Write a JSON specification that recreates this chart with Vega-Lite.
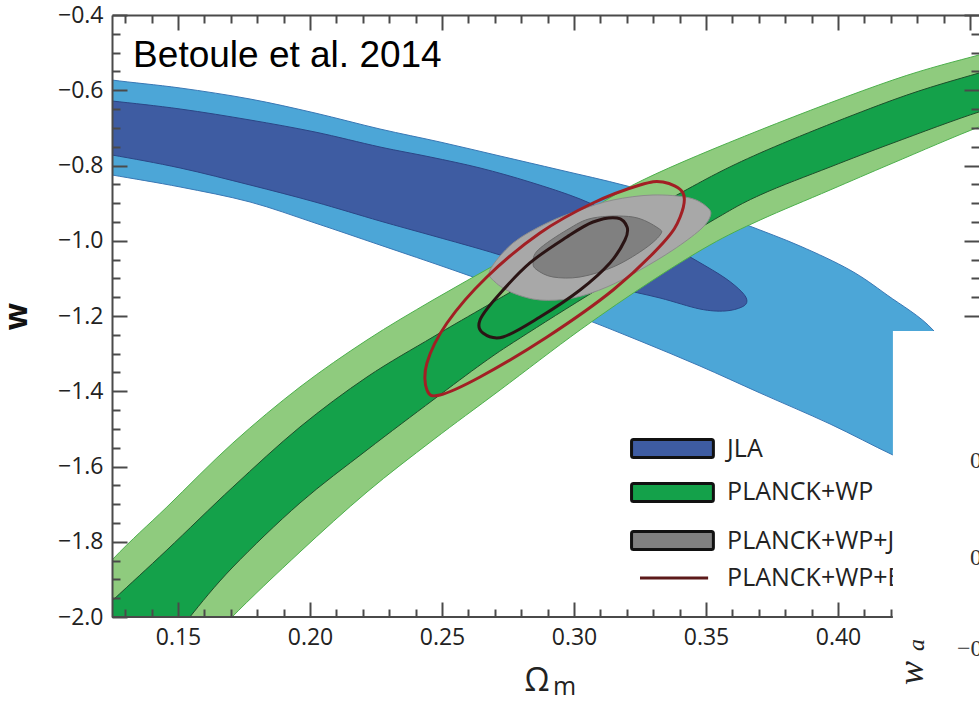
{
  "$schema": "https://vega.github.io/schema/vega-lite/v6.json",
  "width": 867,
  "height": 602,
  "autosize": {"type": "none"},
  "padding": {"left": 112, "top": 15, "right": 0, "bottom": 84},
  "background": "white",
  "config": {
    "view": {"stroke": null},
    "axis": {"grid": false, "domainColor": "#4a4a4a", "domainWidth": 2, "tickColor": "#4a4a4a", "tickWidth": 2, "labelFont": "Open Sans", "labelFontSize": 23, "labelColor": "#222222", "labelFlush": false, "labelOverlap": false}
  },
  "datasets": {
    "shapes": [
      {"s":"LB","i":1,"x":0.1053,"y":-0.5515},{"s":"LB","i":2,"x":0.125,"y":-0.5728},{"s":"LB","i":3,"x":0.1508,"y":-0.594},{"s":"LB","i":4,"x":0.1773,"y":-0.6233},{"s":"LB","i":5,"x":0.2019,"y":-0.6605},{"s":"LB","i":6,"x":0.2265,"y":-0.703},{"s":"LB","i":7,"x":0.2492,"y":-0.7375},{"s":"LB","i":8,"x":0.272,"y":-0.7748},{"s":"LB","i":9,"x":0.2947,"y":-0.812},{"s":"LB","i":10,"x":0.3201,"y":-0.8545},{"s":"LB","i":11,"x":0.3477,"y":-0.9103},{"s":"LB","i":12,"x":0.3655,"y":-0.9581},{"s":"LB","i":13,"x":0.3856,"y":-1.014},{"s":"LB","i":14,"x":0.4045,"y":-1.0777},{"s":"LB","i":15,"x":0.4186,"y":-1.1442},{"s":"LB","i":16,"x":0.436,"y":-1.2372},{"s":"LB","i":17,"x":0.447,"y":-1.3648},{"s":"LB","i":18,"x":0.4492,"y":-1.503},{"s":"LB","i":19,"x":0.4424,"y":-1.6359},{"s":"LB","i":20,"x":0.4208,"y":-1.5694},{"s":"LB","i":21,"x":0.397,"y":-1.487},{"s":"LB","i":22,"x":0.3705,"y":-1.4047},{"s":"LB","i":23,"x":0.3477,"y":-1.3329},{"s":"LB","i":24,"x":0.325,"y":-1.2664},{"s":"LB","i":25,"x":0.3023,"y":-1.2027},{"s":"LB","i":26,"x":0.2796,"y":-1.1415},{"s":"LB","i":27,"x":0.2542,"y":-1.0777},{"s":"LB","i":28,"x":0.2265,"y":-1.0113},{"s":"LB","i":29,"x":0.2019,"y":-0.9528},{"s":"LB","i":30,"x":0.1773,"y":-0.897},{"s":"LB","i":31,"x":0.1508,"y":-0.8571},{"s":"LB","i":32,"x":0.125,"y":-0.8252},{"s":"LB","i":33,"x":0.1053,"y":-0.8013},
      {"s":"DB","i":1,"x":0.1053,"y":-0.6153},{"s":"DB","i":2,"x":0.125,"y":-0.6286},{"s":"DB","i":3,"x":0.1508,"y":-0.6498},{"s":"DB","i":4,"x":0.1773,"y":-0.6791},{"s":"DB","i":5,"x":0.2019,"y":-0.711},{"s":"DB","i":6,"x":0.2265,"y":-0.7508},{"s":"DB","i":7,"x":0.2455,"y":-0.7774},{"s":"DB","i":8,"x":0.2644,"y":-0.8066},{"s":"DB","i":9,"x":0.2833,"y":-0.8439},{"s":"DB","i":10,"x":0.3023,"y":-0.889},{"s":"DB","i":11,"x":0.3174,"y":-0.9395},{"s":"DB","i":12,"x":0.3326,"y":-0.998},{"s":"DB","i":13,"x":0.3466,"y":-1.0538},{"s":"DB","i":14,"x":0.3572,"y":-1.099},{"s":"DB","i":15,"x":0.3636,"y":-1.1362},{"s":"DB","i":16,"x":0.3655,"y":-1.1601},{"s":"DB","i":17,"x":0.3636,"y":-1.1761},{"s":"DB","i":18,"x":0.3572,"y":-1.1867},{"s":"DB","i":19,"x":0.3477,"y":-1.1814},{"s":"DB","i":20,"x":0.3326,"y":-1.1522},{"s":"DB","i":21,"x":0.3148,"y":-1.1229},{"s":"DB","i":22,"x":0.2947,"y":-1.0831},{"s":"DB","i":23,"x":0.2796,"y":-1.0538},{"s":"DB","i":24,"x":0.2644,"y":-1.0219},{"s":"DB","i":25,"x":0.2455,"y":-0.9847},{"s":"DB","i":26,"x":0.2265,"y":-0.9475},{"s":"DB","i":27,"x":0.2019,"y":-0.897},{"s":"DB","i":28,"x":0.1773,"y":-0.8518},{"s":"DB","i":29,"x":0.1508,"y":-0.8066},{"s":"DB","i":30,"x":0.125,"y":-0.7721},{"s":"DB","i":31,"x":0.1053,"y":-0.7508},
      {"s":"LG","i":1,"x":0.0977,"y":-2.0611},{"s":"LG","i":2,"x":0.125,"y":-1.8485},{"s":"LG","i":3,"x":0.1458,"y":-1.7076},{"s":"LG","i":4,"x":0.1708,"y":-1.5375},{"s":"LG","i":5,"x":0.1962,"y":-1.3887},{"s":"LG","i":6,"x":0.2216,"y":-1.2638},{"s":"LG","i":7,"x":0.2466,"y":-1.1575},{"s":"LG","i":8,"x":0.272,"y":-1.0565},{"s":"LG","i":9,"x":0.2985,"y":-0.9502},{"s":"LG","i":10,"x":0.3261,"y":-0.8385},{"s":"LG","i":11,"x":0.3705,"y":-0.7057},{"s":"LG","i":12,"x":0.4208,"y":-0.5728},{"s":"LG","i":13,"x":0.4534,"y":-0.5063},{"s":"LG","i":14,"x":0.4689,"y":-0.4797},{"s":"LG","i":15,"x":0.4689,"y":-0.6658},{"s":"LG","i":16,"x":0.4534,"y":-0.6977},{"s":"LG","i":17,"x":0.4208,"y":-0.7934},{"s":"LG","i":18,"x":0.397,"y":-0.8651},{"s":"LG","i":19,"x":0.3705,"y":-0.9449},{"s":"LG","i":20,"x":0.3515,"y":-1.0113},{"s":"LG","i":21,"x":0.3288,"y":-1.1096},{"s":"LG","i":22,"x":0.3023,"y":-1.2372},{"s":"LG","i":23,"x":0.272,"y":-1.3967},{"s":"LG","i":24,"x":0.2466,"y":-1.5296},{"s":"LG","i":25,"x":0.2216,"y":-1.6678},{"s":"LG","i":26,"x":0.1962,"y":-1.8272},{"s":"LG","i":27,"x":0.1705,"y":-2.0},{"s":"LG","i":28,"x":0.1583,"y":-2.101},{"s":"LG","i":29,"x":0.0977,"y":-2.1276},
      {"s":"DG","i":1,"x":0.1053,"y":-2.0877},{"s":"DG","i":2,"x":0.1254,"y":-1.9548},{"s":"DG","i":3,"x":0.1458,"y":-1.8219},{"s":"DG","i":4,"x":0.1708,"y":-1.6545},{"s":"DG","i":5,"x":0.1962,"y":-1.495},{"s":"DG","i":6,"x":0.2216,"y":-1.3621},{"s":"DG","i":7,"x":0.2466,"y":-1.2558},{"s":"DG","i":8,"x":0.2655,"y":-1.1787},{"s":"DG","i":9,"x":0.3023,"y":-1.0299},{"s":"DG","i":10,"x":0.339,"y":-0.8784},{"s":"DG","i":11,"x":0.3705,"y":-0.7668},{"s":"DG","i":12,"x":0.4208,"y":-0.6259},{"s":"DG","i":13,"x":0.4534,"y":-0.5542},{"s":"DG","i":14,"x":0.4689,"y":-0.5249},{"s":"DG","i":15,"x":0.4689,"y":-0.6339},{"s":"DG","i":16,"x":0.4534,"y":-0.6578},{"s":"DG","i":17,"x":0.4208,"y":-0.7402},{"s":"DG","i":18,"x":0.397,"y":-0.804},{"s":"DG","i":19,"x":0.3705,"y":-0.8784},{"s":"DG","i":20,"x":0.3515,"y":-0.9502},{"s":"DG","i":21,"x":0.3098,"y":-1.1256},{"s":"DG","i":22,"x":0.2796,"y":-1.2585},{"s":"DG","i":23,"x":0.2655,"y":-1.3249},{"s":"DG","i":24,"x":0.2466,"y":-1.4233},{"s":"DG","i":25,"x":0.2216,"y":-1.5561},{"s":"DG","i":26,"x":0.1962,"y":-1.697},{"s":"DG","i":27,"x":0.1708,"y":-1.8671},{"s":"DG","i":28,"x":0.1545,"y":-2.0},{"s":"DG","i":29,"x":0.147,"y":-2.0744},{"s":"DG","i":30,"x":0.1053,"y":-2.1409},
      {"s":"GL","i":1,"x":0.2682,"y":-1.0777},{"s":"GL","i":2,"x":0.2769,"y":-1.0061},{"s":"GL","i":3,"x":0.2898,"y":-0.9528},{"s":"GL","i":4,"x":0.3023,"y":-0.9183},{"s":"GL","i":5,"x":0.3148,"y":-0.8917},{"s":"GL","i":6,"x":0.3299,"y":-0.8784},{"s":"GL","i":7,"x":0.3439,"y":-0.8864},{"s":"GL","i":8,"x":0.3508,"y":-0.913},{"s":"GL","i":9,"x":0.3515,"y":-0.9369},{"s":"GL","i":10,"x":0.3477,"y":-0.9714},{"s":"GL","i":11,"x":0.3375,"y":-1.0246},{"s":"GL","i":12,"x":0.325,"y":-1.0777},{"s":"GL","i":13,"x":0.3125,"y":-1.1229},{"s":"GL","i":14,"x":0.2996,"y":-1.1522},{"s":"GL","i":15,"x":0.2871,"y":-1.1575},{"s":"GL","i":16,"x":0.2769,"y":-1.1389},{"s":"GL","i":17,"x":0.2701,"y":-1.1096},
      {"s":"GD","i":1,"x":0.2845,"y":-1.0591},{"s":"GD","i":2,"x":0.2864,"y":-1.0246},{"s":"GD","i":3,"x":0.2973,"y":-0.9714},{"s":"GD","i":4,"x":0.3072,"y":-0.9395},{"s":"GD","i":5,"x":0.3223,"y":-0.9369},{"s":"GD","i":6,"x":0.3318,"y":-0.9661},{"s":"GD","i":7,"x":0.3326,"y":-0.9847},{"s":"GD","i":8,"x":0.3261,"y":-1.0246},{"s":"GD","i":9,"x":0.3148,"y":-1.0698},{"s":"GD","i":10,"x":0.3023,"y":-1.0963},{"s":"GD","i":11,"x":0.292,"y":-1.0963},{"s":"GD","i":12,"x":0.286,"y":-1.0777},
      {"s":"DE","i":1,"x":0.3072,"y":-0.9502},{"s":"DE","i":2,"x":0.3163,"y":-0.9395},{"s":"DE","i":3,"x":0.3201,"y":-0.9635},{"s":"DE","i":4,"x":0.3193,"y":-0.998},{"s":"DE","i":5,"x":0.3136,"y":-1.0591},{"s":"DE","i":6,"x":0.3023,"y":-1.1309},{"s":"DE","i":7,"x":0.2871,"y":-1.2027},{"s":"DE","i":8,"x":0.2731,"y":-1.2558},{"s":"DE","i":9,"x":0.2655,"y":-1.2452},{"s":"DE","i":10,"x":0.2644,"y":-1.2106},{"s":"DE","i":11,"x":0.2708,"y":-1.1495},{"s":"DE","i":12,"x":0.2833,"y":-1.0591},{"s":"DE","i":13,"x":0.2973,"y":-0.99},
      {"s":"RE","i":1,"x":0.325,"y":-0.8518},{"s":"RE","i":2,"x":0.3337,"y":-0.8439},{"s":"RE","i":3,"x":0.3413,"y":-0.8731},{"s":"RE","i":4,"x":0.3402,"y":-0.9369},{"s":"RE","i":5,"x":0.3337,"y":-1.006},{"s":"RE","i":6,"x":0.3148,"y":-1.1309},{"s":"RE","i":7,"x":0.2898,"y":-1.2558},{"s":"RE","i":8,"x":0.2644,"y":-1.3621},{"s":"RE","i":9,"x":0.2492,"y":-1.41},{"s":"RE","i":10,"x":0.2443,"y":-1.3967},{"s":"RE","i":11,"x":0.2443,"y":-1.3249},{"s":"RE","i":12,"x":0.2519,"y":-1.2186},{"s":"RE","i":13,"x":0.267,"y":-1.0963},{"s":"RE","i":14,"x":0.2871,"y":-0.9794},{"s":"RE","i":15,"x":0.3072,"y":-0.8997}
    ]
  },
  "resolve": {"axis": {"x": "independent", "y": "independent"}},
  "layer": [
    {
      "data": {"name": "shapes"},
      "transform": [{"filter": "datum.s === 'LB'"}],
      "mark": {"type": "line", "interpolate": "cardinal-closed", "fill": "#4CA6D7", "stroke": "#3A78B5", "strokeWidth": 1, "clip": true},
      "encoding": {
        "x": {"field": "x", "type": "quantitative", "scale": {"domain": [0.125, 0.45341], "nice": false, "zero": false},
          "axis": {"orient": "bottom", "values": [0.15, 0.2, 0.25, 0.3, 0.35, 0.4], "format": ".2f", "tickSize": -15, "domain": false, "labelPadding": 24, "title": null, "zindex": 1}},
        "y": {"field": "y", "type": "quantitative", "scale": {"domain": [-2.0, -0.4], "nice": false, "zero": false},
          "axis": {"orient": "left", "values": [-2.0, -1.8, -1.6, -1.4, -1.2, -1.0, -0.8, -0.6, -0.4], "format": ".1f", "tickSize": -15, "labelPadding": 24, "zindex": 1,
            "title": "w", "titleFont": "Open Sans", "titleFontSize": 32, "titleFontWeight": "bold", "titleColor": "#111111", "titleX": -96, "titleY": 301, "titleAngle": 270, "titleAlign": "center", "titleBaseline": "middle"}},
        "order": {"field": "i", "type": "quantitative"}
      }
    },
    {
      "data": {"name": "shapes"},
      "transform": [{"filter": "datum.s === 'DB'"}],
      "mark": {"type": "line", "interpolate": "cardinal-closed", "fill": "#3E5CA2", "stroke": "#2B4686", "strokeWidth": 1, "clip": true},
      "encoding": {
        "x": {"field": "x", "type": "quantitative", "scale": {"domain": [0.125, 0.45341], "nice": false, "zero": false},
          "axis": {"orient": "bottom", "values": [0.13, 0.14, 0.16, 0.17, 0.18, 0.19, 0.21, 0.22, 0.23, 0.24, 0.26, 0.27, 0.28, 0.29, 0.31, 0.32, 0.33, 0.34, 0.36, 0.37, 0.38, 0.39, 0.41, 0.42], "tickSize": -8, "domain": false, "labels": false, "title": null, "zindex": 1}},
        "y": {"field": "y", "type": "quantitative", "scale": {"domain": [-2.0, -0.4], "nice": false, "zero": false},
          "axis": {"orient": "left", "values": [-1.95, -1.9, -1.85, -1.75, -1.7, -1.65, -1.55, -1.5, -1.45, -1.35, -1.3, -1.25, -1.15, -1.1, -1.05, -0.95, -0.9, -0.85, -0.75, -0.7, -0.65, -0.55, -0.5, -0.45], "tickSize": -8, "domain": false, "labels": false, "title": null, "zindex": 1}},
        "order": {"field": "i", "type": "quantitative"}
      }
    },
    {
      "data": {"name": "shapes"},
      "transform": [{"filter": "datum.s === 'LG'"}],
      "mark": {"type": "line", "interpolate": "cardinal-closed", "fill": "#8FCB7E", "stroke": "#4DB04C", "strokeWidth": 1, "clip": true},
      "encoding": {
        "x": {"field": "x", "type": "quantitative", "scale": {"domain": [0.125, 0.45341], "nice": false, "zero": false},
          "axis": {"orient": "top", "values": [0.15, 0.2, 0.25, 0.3, 0.35, 0.4, 0.45], "tickSize": -15, "labels": false, "title": null, "zindex": 1}},
        "y": {"field": "y", "type": "quantitative", "scale": {"domain": [-2.0, -0.4], "nice": false, "zero": false},
          "axis": {"orient": "right", "values": [-1.2, -1.0, -0.8, -0.6, -0.4], "tickSize": -15, "domain": false, "labels": false, "title": null, "zindex": 1}},
        "order": {"field": "i", "type": "quantitative"}
      }
    },
    {
      "data": {"name": "shapes"},
      "transform": [{"filter": "datum.s === 'DG'"}],
      "mark": {"type": "line", "interpolate": "cardinal-closed", "fill": "#14A14A", "stroke": "#1D4F2A", "strokeWidth": 1, "clip": true},
      "encoding": {
        "x": {"field": "x", "type": "quantitative", "scale": {"domain": [0.125, 0.45341], "nice": false, "zero": false},
          "axis": {"orient": "top", "values": [0.13, 0.14, 0.16, 0.17, 0.18, 0.19, 0.21, 0.22, 0.23, 0.24, 0.26, 0.27, 0.28, 0.29, 0.31, 0.32, 0.33, 0.34, 0.36, 0.37, 0.38, 0.39, 0.41, 0.42, 0.43, 0.44], "tickSize": -8, "domain": false, "labels": false, "title": null, "zindex": 1}},
        "y": {"field": "y", "type": "quantitative", "scale": {"domain": [-2.0, -0.4], "nice": false, "zero": false},
          "axis": {"orient": "right", "values": [-1.15, -1.1, -1.05, -0.95, -0.9, -0.85, -0.75, -0.7, -0.65, -0.55, -0.5, -0.45], "tickSize": -8, "domain": false, "labels": false, "title": null, "zindex": 1}},
        "order": {"field": "i", "type": "quantitative"}
      }
    },
    {
      "data": {"name": "shapes"},
      "transform": [{"filter": "datum.s === 'GL'"}],
      "mark": {"type": "line", "interpolate": "cardinal-closed", "fill": "#A8A8A8", "stroke": "#8C8C8C", "strokeWidth": 1, "clip": true},
      "encoding": {
        "x": {"field": "x", "type": "quantitative", "scale": {"domain": [0.125, 0.45341], "nice": false, "zero": false}, "axis": null},
        "y": {"field": "y", "type": "quantitative", "scale": {"domain": [-2.0, -0.4], "nice": false, "zero": false}, "axis": null},
        "order": {"field": "i", "type": "quantitative"}
      }
    },
    {
      "data": {"name": "shapes"},
      "transform": [{"filter": "datum.s === 'GD'"}],
      "mark": {"type": "line", "interpolate": "cardinal-closed", "fill": "#808080", "stroke": "#6A6A6A", "strokeWidth": 1, "clip": true},
      "encoding": {
        "x": {"field": "x", "type": "quantitative", "scale": {"domain": [0.125, 0.45341], "nice": false, "zero": false}, "axis": null},
        "y": {"field": "y", "type": "quantitative", "scale": {"domain": [-2.0, -0.4], "nice": false, "zero": false}, "axis": null},
        "order": {"field": "i", "type": "quantitative"}
      }
    },
    {
      "mark": {"type": "rule", "color": "#1A1A1A", "strokeWidth": 4, "strokeDash": [24, 23]},
      "encoding": {
        "y": {"datum": -1.0, "type": "quantitative", "scale": {"domain": [-2.0, -0.4], "nice": false, "zero": false}, "axis": null}
      }
    },
    {
      "data": {"name": "shapes"},
      "transform": [{"filter": "datum.s === 'RE'"}],
      "mark": {"type": "line", "interpolate": "cardinal-closed", "fill": null, "stroke": "#A21F24", "strokeWidth": 3, "clip": true},
      "encoding": {
        "x": {"field": "x", "type": "quantitative", "scale": {"domain": [0.125, 0.45341], "nice": false, "zero": false}, "axis": null},
        "y": {"field": "y", "type": "quantitative", "scale": {"domain": [-2.0, -0.4], "nice": false, "zero": false}, "axis": null},
        "order": {"field": "i", "type": "quantitative"}
      }
    },
    {
      "data": {"name": "shapes"},
      "transform": [{"filter": "datum.s === 'DE'"}],
      "mark": {"type": "line", "interpolate": "cardinal-closed", "fill": null, "stroke": "#2A1414", "strokeWidth": 3, "clip": true},
      "encoding": {
        "x": {"field": "x", "type": "quantitative", "scale": {"domain": [0.125, 0.45341], "nice": false, "zero": false}, "axis": null},
        "y": {"field": "y", "type": "quantitative", "scale": {"domain": [-2.0, -0.4], "nice": false, "zero": false}, "axis": null},
        "order": {"field": "i", "type": "quantitative"}
      }
    },
    {
      "data": {"values": [{"x": 0.125, "x2": 0.4208, "y": -2.0}]},
      "mark": {"type": "rule", "color": "#4a4a4a", "strokeWidth": 2},
      "encoding": {
        "x": {"field": "x", "type": "quantitative", "scale": {"domain": [0.125, 0.45341], "nice": false, "zero": false}, "axis": null},
        "x2": {"field": "x2"},
        "y": {"field": "y", "type": "quantitative", "scale": {"domain": [-2.0, -0.4], "nice": false, "zero": false}, "axis": null}
      }
    },
    {
      "data": {"values": [
        {"label": "JLA", "x": 0.3218, "x2": 0.3528, "y": -1.5282, "y2": -1.5761},
        {"label": "PLANCK+WP", "x": 0.3218, "x2": 0.3528, "y": -1.6452, "y2": -1.693},
        {"label": "PLANCK+WP+JLA", "x": 0.3218, "x2": 0.3528, "y": -1.7728, "y2": -1.8206}
      ]},
      "mark": {"type": "rect", "stroke": "#111111", "strokeWidth": 3, "cornerRadius": 2},
      "encoding": {
        "x": {"field": "x", "type": "quantitative", "scale": {"domain": [0.125, 0.45341], "nice": false, "zero": false}, "axis": null},
        "x2": {"field": "x2"},
        "y": {"field": "y", "type": "quantitative", "scale": {"domain": [-2.0, -0.4], "nice": false, "zero": false}, "axis": null},
        "y2": {"field": "y2"},
        "fill": {"field": "label", "type": "nominal", "scale": {"domain": ["JLA", "PLANCK+WP", "PLANCK+WP+JLA"], "range": ["#3E5CA2", "#14A14A", "#808080"]}, "legend": null}
      }
    },
    {
      "data": {"values": [{"x": 0.325, "x2": 0.3508, "y": -1.8964}]},
      "mark": {"type": "rule", "color": "#5C1A1A", "strokeWidth": 3},
      "encoding": {
        "x": {"field": "x", "type": "quantitative", "scale": {"domain": [0.125, 0.45341], "nice": false, "zero": false}, "axis": null},
        "x2": {"field": "x2"},
        "y": {"field": "y", "type": "quantitative", "scale": {"domain": [-2.0, -0.4], "nice": false, "zero": false}, "axis": null}
      }
    },
    {
      "data": {"values": [
        {"t": "JLA", "x": 0.358, "y": -1.5522},
        {"t": "PLANCK+WP", "x": 0.358, "y": -1.6691},
        {"t": "PLANCK+WP+JLA", "x": 0.358, "y": -1.7967},
        {"t": "PLANCK+WP+BAO", "x": 0.358, "y": -1.8964}
      ]},
      "mark": {"type": "text", "align": "left", "baseline": "middle", "font": "Open Sans", "fontSize": 25, "color": "#222222"},
      "encoding": {
        "x": {"field": "x", "type": "quantitative", "scale": {"domain": [0.125, 0.45341], "nice": false, "zero": false}, "axis": null},
        "y": {"field": "y", "type": "quantitative", "scale": {"domain": [-2.0, -0.4], "nice": false, "zero": false}, "axis": null},
        "text": {"field": "t"}
      }
    },
    {
      "data": {"values": [{"t": "Betoule et al. 2014", "x": 0.133, "y": -0.5382}]},
      "mark": {"type": "text", "align": "left", "baseline": "alphabetic", "font": "Liberation Sans", "fontSize": 37, "color": "#000000"},
      "encoding": {
        "x": {"field": "x", "type": "quantitative", "scale": {"domain": [0.125, 0.45341], "nice": false, "zero": false}, "axis": null},
        "y": {"field": "y", "type": "quantitative", "scale": {"domain": [-2.0, -0.4], "nice": false, "zero": false}, "axis": null},
        "text": {"field": "t"}
      }
    },
    {
      "data": {"values": [{"t": "Ω", "x": 0.286, "y": -2.1967}]},
      "mark": {"type": "text", "align": "center", "baseline": "alphabetic", "font": "Open Sans", "fontSize": 32, "color": "#222222"},
      "encoding": {
        "x": {"field": "x", "type": "quantitative", "scale": {"domain": [0.125, 0.45341], "nice": false, "zero": false}, "axis": null},
        "y": {"field": "y", "type": "quantitative", "scale": {"domain": [-2.0, -0.4], "nice": false, "zero": false}, "axis": null},
        "text": {"field": "t"}
      }
    },
    {
      "data": {"values": [{"t": "m", "x": 0.292, "y": -2.2073}]},
      "mark": {"type": "text", "align": "left", "baseline": "alphabetic", "font": "Open Sans", "fontSize": 25, "color": "#222222"},
      "encoding": {
        "x": {"field": "x", "type": "quantitative", "scale": {"domain": [0.125, 0.45341], "nice": false, "zero": false}, "axis": null},
        "y": {"field": "y", "type": "quantitative", "scale": {"domain": [-2.0, -0.4], "nice": false, "zero": false}, "axis": null},
        "text": {"field": "t"}
      }
    },
    {
      "data": {"values": [{"x": 0.4208, "x2": 0.47, "y": -1.2399, "y2": -2.3}]},
      "mark": {"type": "rect", "color": "#ffffff"},
      "encoding": {
        "x": {"field": "x", "type": "quantitative", "scale": {"domain": [0.125, 0.45341], "nice": false, "zero": false}, "axis": null},
        "x2": {"field": "x2"},
        "y": {"field": "y", "type": "quantitative", "scale": {"domain": [-2.0, -0.4], "nice": false, "zero": false}, "axis": null},
        "y2": {"field": "y2"}
      }
    },
    {
      "data": {"values": [
        {"t": "0", "x": 0.45, "y": -1.5854},
        {"t": "0", "x": 0.45, "y": -1.8432},
        {"t": "−0", "x": 0.4451, "y": -2.0851}
      ]},
      "mark": {"type": "text", "align": "left", "baseline": "middle", "font": "Liberation Serif", "fontSize": 24, "color": "#333333"},
      "encoding": {
        "x": {"field": "x", "type": "quantitative", "scale": {"domain": [0.125, 0.45341], "nice": false, "zero": false}, "axis": null},
        "y": {"field": "y", "type": "quantitative", "scale": {"domain": [-2.0, -0.4], "nice": false, "zero": false}, "axis": null},
        "text": {"field": "t"}
      }
    },
    {
      "data": {"values": [{"t": "w", "x": 0.428, "y": -2.1488}]},
      "mark": {"type": "text", "align": "center", "baseline": "middle", "angle": 270, "font": "Liberation Serif", "fontStyle": "italic", "fontSize": 36, "color": "#222222"},
      "encoding": {
        "x": {"field": "x", "type": "quantitative", "scale": {"domain": [0.125, 0.45341], "nice": false, "zero": false}, "axis": null},
        "y": {"field": "y", "type": "quantitative", "scale": {"domain": [-2.0, -0.4], "nice": false, "zero": false}, "axis": null},
        "text": {"field": "t"}
      }
    },
    {
      "data": {"values": [{"t": "a", "x": 0.4299, "y": -2.0744}]},
      "mark": {"type": "text", "align": "center", "baseline": "middle", "angle": 270, "font": "Liberation Serif", "fontStyle": "italic", "fontSize": 24, "color": "#222222"},
      "encoding": {
        "x": {"field": "x", "type": "quantitative", "scale": {"domain": [0.125, 0.45341], "nice": false, "zero": false}, "axis": null},
        "y": {"field": "y", "type": "quantitative", "scale": {"domain": [-2.0, -0.4], "nice": false, "zero": false}, "axis": null},
        "text": {"field": "t"}
      }
    }
  ]
}
